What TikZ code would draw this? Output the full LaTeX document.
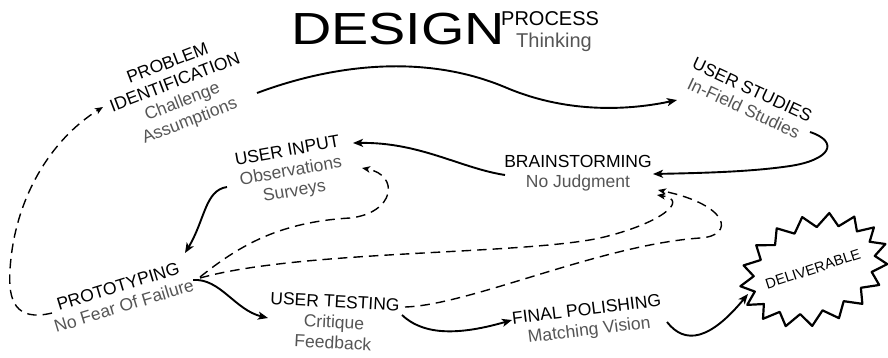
\documentclass[tikz,border=0pt]{standalone}
\usepackage{fontspec}
\setmainfont{Liberation Sans}
\usetikzlibrary{arrows.meta}
\definecolor{subgray}{HTML}{555555}
\newcommand{\gry}[1]{\textcolor{subgray}{#1}}
\begin{document}
\begin{tikzpicture}[x=1pt,y=-1pt,
  lbl/.style={align=center, inner sep=0pt, font=\fontsize{17.5}{20.5}\selectfont, text=black},
  flow/.style={line width=1.9pt, -{Stealth[length=10pt,width=8pt,inset=2.5pt]}},
  back/.style={line width=1.4pt, dash pattern=on 9.5pt off 6pt, -{Stealth[length=8pt,width=6.5pt,inset=2pt]}},
  burst/.style={line width=2.2pt, line join=round}]
\useasboundingbox (0,0) rectangle (888,357);
% title
\node[anchor=base west, inner sep=0pt, font=\fontsize{45}{45}\selectfont, xscale=1.24] (design) at (291,44) {DESIGN};
\node[anchor=base west, inner sep=0pt, font=\fontsize{20}{20}\selectfont] (process) at (501,25) {PROCESS};
\node[anchor=base west, inner sep=0pt, font=\fontsize{20}{20}\selectfont, text=subgray] (thinking) at (516,47) {Thinking};
% stages
\node[lbl, rotate=21] (PI) at (179,93) {PROBLEM\\IDENTIFICATION\\\gry{Challenge}\\\gry{Assumptions}};
\node[lbl, rotate=-25] (US) at (748,99) {USER STUDIES\\\gry{In-Field Studies}};
\node[lbl] (BR) at (578,173) {BRAINSTORMING\\\gry{No Judgment}};
\node[lbl, rotate=10] (UI) at (291,172) {USER INPUT\\\gry{Observations}\\\gry{Surveys}};
\node[lbl, rotate=17] (PR) at (121,296) {PROTOTYPING\\\gry{No Fear Of Failure}};
\node[lbl, rotate=-3] (UT) at (334,322) {USER TESTING\\\gry{Critique}\\\gry{Feedback}};
\node[lbl, rotate=7] (FP) at (588,321) {FINAL POLISHING\\\gry{Matching Vision}};
\node[inner sep=0pt, rotate=18, font=\fontsize{14.5}{14.5}\selectfont] (DL) at (813,269) {DELIVERABLE};
% starburst
\draw[burst] [shift={(814,270)}, rotate=20] plot[samples at={0,...,33}, variable=\k]
  ({(63+13*mod(\k+1,2))*cos(\k*360/34)}, {(41+13*mod(\k+1,2))*sin(\k*360/34)}) -- cycle;
% solid flow
\draw[flow] ([shift={(78,0)}]PI.center) .. controls (340,62) and (430,55) .. (507,88)
  .. controls (569,114) and (630,110) .. ([shift={(-71,1)}]US.center);
\draw[flow] ([shift={(62,33)}]US.center) .. controls (840,142) and (830,160) .. (790,166)
  .. controls (750,172) and (700,173) .. ([shift={(75,1)}]BR.center);
\draw[flow] ([shift={(-73,2)}]BR.center) .. controls (460,168) and (420,142) .. ([shift={(62,-29)}]UI.center);
\draw[flow] ([shift={(-64,15)}]UI.center) .. controls (205,190) and (205,220) .. ([shift={(64,-43)}]PR.center);
\draw[flow] ([shift={(72,-16)}]PR.center) .. controls (220,278) and (235,310) .. ([shift={(-66,-4)}]UT.center);
\draw[flow] ([shift={(68,-7)}]UT.center) .. controls (420,332) and (450,338) .. ([shift={(-76,-1)}]FP.center);
\draw[flow] ([shift={(79,1)}]FP.center) .. controls (685,345) and (710,340) .. ([shift={(-65,25)}]DL.center);
% dashed feedback
\draw[back] ([shift={(-69,17)}]PR.center) .. controls (15,322) and (8,300) .. (10,270)
  .. controls (14,200) and (50,140) .. ([shift={(-76,14)}]PI.center);
\draw[back] ([shift={(79,-19)}]PR.center) .. controls (240,245) and (280,222) .. (350,218)
  .. controls (395,213) and (400,175) .. ([shift={(71,-4)}]UI.center);
\draw[back] ([shift={(79,-18)}]PR.center) .. controls (300,250) and (520,255) .. (600,238)
  .. controls (660,224) and (690,200) .. ([shift={(79,22)}]BR.center);
\draw[back] ([shift={(71,-15)}]UT.center) .. controls (470,305) and (600,245) .. (700,238)
  .. controls (735,236) and (730,205) .. ([shift={(80,17)}]BR.center);
\end{tikzpicture}
\end{document}
